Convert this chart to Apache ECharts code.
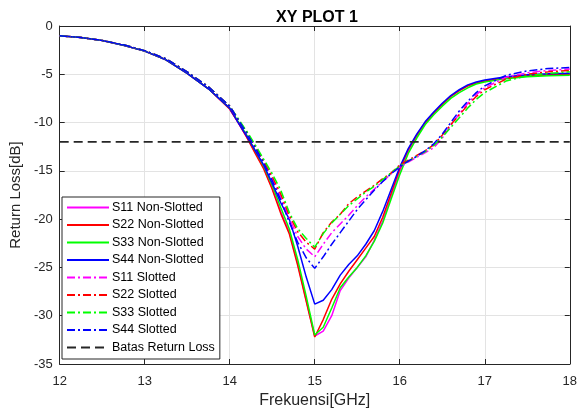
<!DOCTYPE html>
<html>
<head>
<meta charset="utf-8">
<script src="https://cdn.jsdelivr.net/npm/echarts@6/dist/echarts.min.js"></script>
<style>
  html, body { margin: 0; padding: 0; background: #fff; }
  #chart { width: 580px; height: 415px; }
</style>
</head>
<body>
<div id="chart"></div>
<script>
const freq = [12, 12.25, 12.5, 12.75, 13, 13.25, 13.5, 13.75, 14, 14.1, 14.2, 14.3, 14.4, 14.5, 14.6, 14.7, 14.8, 14.9, 15,
  15.1, 15.2, 15.3, 15.4, 15.5, 15.6, 15.7, 15.8, 15.9, 16, 16.1, 16.2, 16.3, 16.4, 16.5, 16.6, 16.7, 16.8, 16.9, 17,
  17.25, 17.5, 17.75, 18]

// non-slotted
const s11NonSlotted = [-1.0, -1.2, -1.5, -2.0, -2.6, -3.5, -4.9, -6.5, -8.6, -10.0, -11.5, -13.1, -14.7, -16.8, -19.2, -21.3, -24.6, -28.4, -32.1,
  -31.6, -30.0, -27.4, -26.1, -25.0, -23.9, -22.2, -20.2, -17.6, -15.1, -13.0, -11.4, -10.1, -9.0, -8.1, -7.3, -6.7, -6.2, -5.9, -5.7,
  -5.35, -5.15, -5.05, -5.0]
const s22NonSlotted = [-1.0, -1.2, -1.5, -2.0, -2.6, -3.5, -4.9, -6.5, -8.6, -10.0, -11.5, -13.2, -14.8, -16.9, -19.4, -21.5, -24.8, -28.5, -32.2,
  -30.4, -28.3, -26.7, -25.4, -24.2, -23.0, -21.8, -19.8, -17.3, -14.8, -12.8, -11.3, -10.0, -9.0, -8.1, -7.3, -6.7, -6.2, -5.9, -5.7,
  -5.35, -5.15, -5.05, -5.0]
const s33NonSlotted = [-1.0, -1.2, -1.5, -2.0, -2.6, -3.5, -4.9, -6.5, -8.5, -9.9, -11.3, -12.9, -14.5, -16.5, -18.8, -21.0, -24.2, -28.0, -32.0,
  -31.2, -29.2, -27.1, -26.0, -25.0, -23.8, -22.3, -20.4, -17.9, -15.4, -13.2, -11.6, -10.2, -9.2, -8.3, -7.5, -6.9, -6.4, -6.0, -5.8,
  -5.45, -5.25, -5.15, -5.1]
const s44NonSlotted = [-1.0, -1.2, -1.5, -2.0, -2.6, -3.5, -4.9, -6.5, -8.5, -10.0, -11.4, -12.9, -14.4, -16.3, -18.3, -20.0, -22.8, -26.0, -28.8,
  -28.4, -27.3, -25.8, -24.7, -23.8, -22.6, -21.2, -19.2, -16.9, -14.6, -12.7, -11.2, -9.9, -8.9, -8.0, -7.2, -6.6, -6.1, -5.8, -5.6,
  -5.25, -5.05, -4.95, -4.9]

// slotted
const s11Slotted = [-1.0, -1.2, -1.5, -1.95, -2.55, -3.4, -4.75, -6.3, -8.3, -9.7, -11.0, -12.5, -14.1, -15.8, -17.7, -19.9, -21.8, -23.1, -23.9,
  -22.6, -21.4, -20.5, -19.6, -18.6, -17.7, -16.9, -16.1, -15.3, -14.6, -14.1, -13.6, -13.1, -12.6, -11.6, -10.3, -9.1, -8.0, -7.1, -6.4,
  -5.3, -4.85, -4.6, -4.45]
const s22Slotted = [-1.0, -1.2, -1.5, -1.95, -2.55, -3.4, -4.75, -6.3, -8.3, -9.7, -11.0, -12.5, -14.0, -15.6, -17.4, -19.6, -21.3, -22.4, -23.1,
  -21.4, -20.3, -19.5, -18.4, -17.7, -17.1, -16.5, -15.8, -15.2, -14.4, -13.9, -13.4, -12.9, -12.3, -11.3, -10.2, -9.2, -8.2, -7.3, -6.6,
  -5.5, -5.0, -4.75, -4.6]
const s33Slotted = [-1.0, -1.2, -1.5, -1.95, -2.55, -3.4, -4.75, -6.3, -8.3, -9.6, -10.9, -12.3, -13.8, -15.3, -17.0, -19.3, -21.0, -22.0, -22.9,
  -21.5, -20.4, -19.5, -18.6, -17.9, -17.2, -16.6, -15.9, -15.2, -14.5, -14.0, -13.5, -13.0, -12.4, -11.5, -10.5, -9.5, -8.5, -7.6, -6.9,
  -5.7, -5.15, -4.9, -4.75]
const s44Slotted = [-1.0, -1.2, -1.5, -1.95, -2.55, -3.4, -4.75, -6.3, -8.3, -9.7, -11.1, -12.6, -14.2, -16.0, -18.0, -20.3, -22.4, -24.0, -25.1,
  -23.9, -22.6, -21.4, -20.2, -19.0, -18.0, -17.0, -16.1, -15.3, -14.6, -14.0, -13.5, -12.9, -12.2, -11.2, -10.0, -8.8, -7.8, -6.9, -6.2,
  -5.1, -4.65, -4.4, -4.3]

const batasFreq = [12, 18]
const batasValue = [-12, -12]

const xTicks = [12, 13, 14, 15, 16, 17, 18]
const yTicks = [0, -5, -10, -15, -20, -25, -30, -35]

const FONT = 'Liberation Sans, Arial, sans-serif'
const AXIS_COLOR = '#262626'
const DASH_DOT = [8, 3, 2, 3]

function toPoints (xs, ys) {
  return xs.map((x, i) => [x, ys[i]])
}

function lineSeries (name, color, values, dashed) {
  return {
    name: name,
    type: 'line',
    symbol: 'none',
    silent: true,
    data: toPoints(freq, values),
    lineStyle: {
      color: color,
      width: 1.5,
      type: dashed ? DASH_DOT : 'solid'
    },
    itemStyle: { color: color }
  }
}

const seriesOpts = [
  lineSeries('S11 Non-Slotted', '#ff00ff', s11NonSlotted, false),
  lineSeries('S22 Non-Slotted', '#ff0000', s22NonSlotted, false),
  lineSeries('S33 Non-Slotted', '#00ff00', s33NonSlotted, false),
  lineSeries('S44 Non-Slotted', '#0000ff', s44NonSlotted, false),
  lineSeries('S11 Slotted', '#ff00ff', s11Slotted, true),
  lineSeries('S22 Slotted', '#ff0000', s22Slotted, true),
  lineSeries('S33 Slotted', '#00ff00', s33Slotted, true),
  lineSeries('S44 Slotted', '#0000ff', s44Slotted, true),
  {
    name: 'Batas Return Loss',
    type: 'line',
    symbol: 'none',
    silent: true,
    data: toPoints(batasFreq, batasValue),
    lineStyle: { color: AXIS_COLOR, width: 1.8, type: [9, 5] },
    itemStyle: { color: AXIS_COLOR }
  }
]

// the box around the plot: top and right axes only draw line + inner ticks
function boxAxis (position, min, max, interval) {
  return {
    type: 'value',
    position: position,
    min: min,
    max: max,
    interval: interval,
    axisLine: { show: true, onZero: false, lineStyle: { color: AXIS_COLOR, width: 1 } },
    axisTick: { show: true, inside: true, length: 5, lineStyle: { color: AXIS_COLOR } },
    axisLabel: { show: false },
    splitLine: { show: false }
  }
}

const chart = echarts.init(document.getElementById('chart'), null, { renderer: 'canvas' })

const option = {
  animation: false,
  backgroundColor: '#fff',
  title: {
    text: 'XY PLOT 1',
    left: 312,
    top: 5,
    textAlign: 'center',
    textStyle: { fontFamily: FONT, fontSize: 16, fontWeight: 'bold', color: '#000' }
  },
  grid: { left: 54, right: 4, top: 26, bottom: 51 },
  legend: {
    orient: 'vertical',
    left: 62,
    top: 197,
    padding: [4, 5, 5, 4],
    itemWidth: 42,
    itemHeight: 14,
    itemGap: 4.5,
    backgroundColor: '#fff',
    borderColor: AXIS_COLOR,
    borderWidth: 1,
    borderRadius: 0,
    selectedMode: false,
    // line-only legend keys, no marker in the middle
    itemStyle: { opacity: 0 },
    textStyle: { fontFamily: FONT, fontSize: 12.5, color: '#000', padding: [0, 0, 0, -2] },
    data: seriesOpts.map(s => s.name)
  },
  xAxis: [
    {
      type: 'value',
      min: xTicks[0],
      max: xTicks[xTicks.length - 1],
      interval: 1,
      name: 'Frekuensi[GHz]',
      nameLocation: 'middle',
      nameGap: 25,
      nameTextStyle: { fontFamily: FONT, fontSize: 16, color: AXIS_COLOR },
      axisLine: { show: true, onZero: false, lineStyle: { color: AXIS_COLOR, width: 1 } },
      axisTick: { show: true, inside: true, length: 5, lineStyle: { color: AXIS_COLOR } },
      axisLabel: { fontFamily: FONT, fontSize: 13, color: AXIS_COLOR, margin: 11 },
      splitLine: { show: true, lineStyle: { color: '#e3e3e3', width: 1 } }
    },
    boxAxis('top', xTicks[0], xTicks[xTicks.length - 1], 1)
  ],
  yAxis: [
    {
      type: 'value',
      min: yTicks[yTicks.length - 1],
      max: yTicks[0],
      interval: 5,
      name: 'Return Loss[dB]',
      nameLocation: 'middle',
      nameGap: 30,
      nameTextStyle: { fontFamily: FONT, fontSize: 15, color: AXIS_COLOR },
      axisLine: { show: true, onZero: false, lineStyle: { color: AXIS_COLOR, width: 1 } },
      axisTick: { show: true, inside: true, length: 5, lineStyle: { color: AXIS_COLOR } },
      axisLabel: { fontFamily: FONT, fontSize: 13, color: AXIS_COLOR, margin: 7 },
      splitLine: { show: true, lineStyle: { color: '#e3e3e3', width: 1 } }
    },
    boxAxis('right', yTicks[yTicks.length - 1], yTicks[0], 5)
  ],
  series: seriesOpts
}

chart.setOption(option)
</script>
</body>
</html>
